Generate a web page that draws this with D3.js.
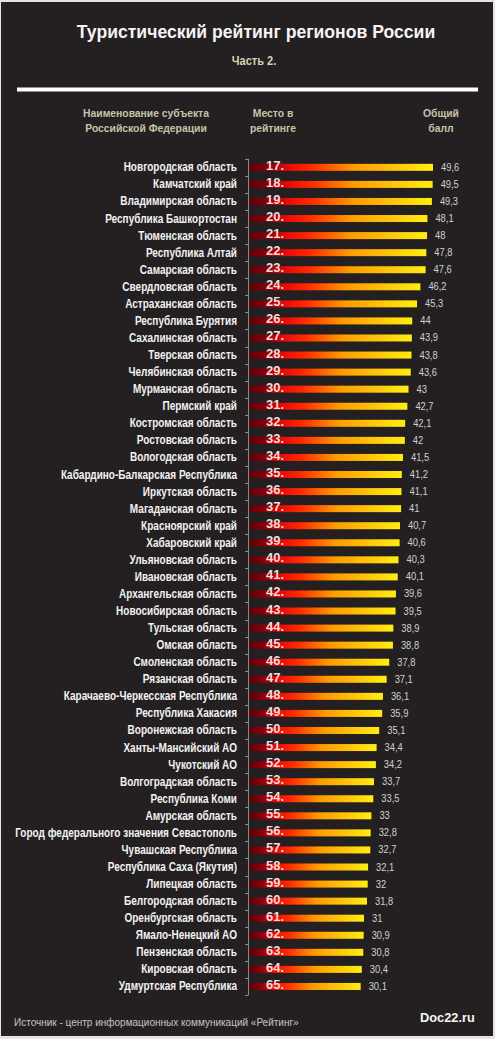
<!DOCTYPE html>
<html><head><meta charset="utf-8">
<script src="https://cdn.jsdelivr.net/npm/d3@7"></script>
<style>
html,body{margin:0;padding:0;background:#e4e4e4;}
svg{display:block;}
</style></head>
<body>
<script>
const regions = ["Новгородская область","Камчатский край","Владимирская область","Республика Башкортостан","Тюменская область","Республика Алтай","Самарская область","Свердловская область","Астраханская область","Республика Бурятия","Сахалинская область","Тверская область","Челябинская область","Мурманская область","Пермский край","Костромская область","Ростовская область","Вологодская область","Кабардино-Балкарская Республика","Иркутская область","Магаданская область","Красноярский край","Хабаровский край","Ульяновская область","Ивановская область","Архангельская область","Новосибирская область","Тульская область","Омская область","Смоленская область","Рязанская область","Карачаево-Черкесская Республика","Республика Хакасия","Воронежская область","Ханты-Мансийский АО","Чукотский АО","Волгоградская область","Республика Коми","Амурская область","Город федерального значения Севастополь","Чувашская Республика","Республика Саха (Якутия)","Липецкая область","Белгородская область","Оренбургская область","Ямало-Ненецкий АО","Пензенская область","Кировская область","Удмуртская Республика"];
const ranks = [17,18,19,20,21,22,23,24,25,26,27,28,29,30,31,32,33,34,35,36,37,38,39,40,41,42,43,44,45,46,47,48,49,50,51,52,53,54,55,56,57,58,59,60,61,62,63,64,65];
const scores = [49.6,49.5,49.3,48.1,48,47.8,47.6,46.2,45.3,44,43.9,43.8,43.6,43,42.7,42.1,42,41.5,41.2,41.1,41,40.7,40.6,40.3,40.1,39.6,39.5,38.9,38.8,37.8,37.1,36.1,35.9,35.1,34.4,34.2,33.7,33.5,33,32.8,32.7,32.1,32,31.8,31,30.9,30.8,30.4,30.1];

const W = 495, H = 1039;
const svg = d3.select("body").append("svg").attr("width", W).attr("height", H);

const defs = svg.append("defs");
const grad = defs.append("linearGradient").attr("id","barGrad").attr("x1","0").attr("x2","1").attr("y1","0").attr("y2","0");
[[0,"#5c0008"],[0.1,"#8a0008"],[0.22,"#ee0a0a"],[0.34,"#ff2a00"],[0.57,"#ff9a00"],[1,"#ffee10"]]
  .forEach(([o,c]) => grad.append("stop").attr("offset", o).attr("stop-color", c));

svg.append("rect").attr("x",1).attr("y",2).attr("width",492).attr("height",1034).attr("fill","#242021");

const font = "'Liberation Sans', Arial, sans-serif";

// condensed-looking text: a group positioned at (x,y), horizontally scaled by k
function ctext(parent, x, y, k) {
  return parent.append("g").attr("transform", `translate(${x},${y}) scale(${k},1)`).append("text").attr("x",0).attr("y",0);
}

svg.append("text").attr("x",256).attr("y",38).attr("text-anchor","middle")
  .attr("font-family",font).attr("font-weight","bold").attr("font-size",17.6)
  .attr("fill","#f4f4f4").text("Туристический рейтинг регионов России");
ctext(svg, 254, 65, 0.85).attr("text-anchor","middle")
  .attr("font-family",font).attr("font-weight","bold").attr("font-size",13)
  .attr("fill","#d6cfb2").text("Часть 2.");
svg.append("rect").attr("x",17).attr("y",87.5).attr("width",461).attr("height",4).attr("fill","#ffffff");

const hdr = [
  {x:146, lines:["Наименование субъекта","Российской Федерации"]},
  {x:273, lines:["Место в","рейтинге"]},
  {x:441, lines:["Общий","балл"]}
];
hdr.forEach(h => {
  h.lines.forEach((l,i) => ctext(svg, h.x, 117+i*15, 0.9)
    .attr("text-anchor","middle").attr("font-family",font).attr("font-weight","bold")
    .attr("font-size",11.5).attr("fill","#c9c3a8").text(l));
});

const y = d3.scaleBand().domain(ranks).range([158.8, 995]).padding(0);
const x = d3.scaleLinear().domain([0, 49.6]).range([249, 433]);
const barH = 7;

// axis with boundary ticks
const axisX = 248;
const ax = svg.append("g").attr("stroke","#8a8a8a").attr("stroke-width",1);
ax.append("line").attr("x1",axisX+0.5).attr("x2",axisX+0.5).attr("y1",y.range()[0]).attr("y2",y.range()[1]);
const bounds = ranks.map(r => y(r)).concat([y.range()[1]]);
ax.selectAll("line.t").data(bounds).join("line").attr("class","t")
  .attr("x1",axisX-3).attr("x2",axisX+0.5).attr("y1",d=>Math.round(d)+0.5).attr("y2",d=>Math.round(d)+0.5);

const data = ranks.map((r,i)=>({r, name:regions[i], v:scores[i]}));
const rows = svg.append("g").selectAll("g").data(data).join("g")
  .attr("transform", d => `translate(0,${y(d.r)+y.bandwidth()/2})`);

rows.append("rect").attr("x", x(0)).attr("y", -barH/2).attr("width", d => x(d.v)-x(0)).attr("height", barH)
  .attr("fill","url(#barGrad)");
rows.append("g").attr("transform","translate(237,4) scale(0.835,1)")
  .append("text").attr("text-anchor","end")
  .attr("font-family",font).attr("font-weight","bold").attr("font-size",12)
  .attr("fill","#f2f2f2").text(d=>d.name);
rows.append("text").attr("x",266).attr("y",2.5)
  .attr("font-family",font).attr("font-weight","bold").attr("font-size",13)
  .attr("fill","#fbd9d9").text(d=>d.r+".");
rows.append("g").attr("transform",d=>`translate(${x(d.v)+8},3.5) scale(0.85,1)`)
  .append("text")
  .attr("font-family",font).attr("font-size",11)
  .attr("fill","#d0d0d0").text(d=>String(d.v).replace(".",","));

svg.append("text").attr("x",14).attr("y",1026).attr("font-family",font).attr("font-size",10)
  .attr("fill","#c4c4c4").text("Источник - центр информационных коммуникаций «Рейтинг»");
svg.append("text").attr("x",420).attr("y",1022).attr("font-family",font).attr("font-weight","bold").attr("font-size",12.8)
  .attr("fill","#f4f4f4").text("Doc22.ru");
</script>
</body></html>
